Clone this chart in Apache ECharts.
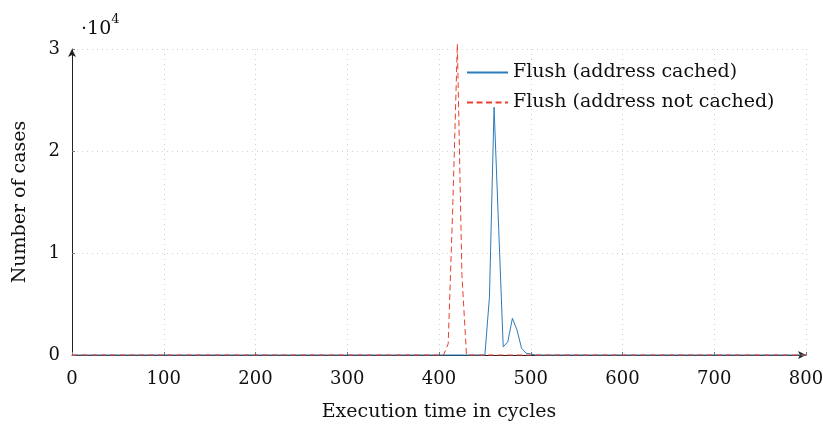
<!DOCTYPE html>
<html><head><meta charset="utf-8">
<script src="https://cdn.jsdelivr.net/npm/echarts@6/dist/echarts.min.js"></script>
<style>html,body{margin:0;padding:0;background:#fff}#c{width:823px;height:426px}</style>
</head><body><div id="c"></div>
<script>
// Data (execution time in cycles -> number of cases)
const cachedX = [0, 410, 450, 455, 460, 465, 470, 475, 480, 485, 490, 495, 500, 505, 800];
const cachedY = [0, 0, 0, 5700, 24300, 12500, 800, 1300, 3600, 2450, 660, 170, 100, 0, 0];
const notCachedX = [0, 405, 410, 415, 420, 425, 430, 800];
const notCachedY = [0, 0, 1100, 14500, 30500, 7800, 0, 0];
const xTicks = [0, 100, 200, 300, 400, 500, 600, 700, 800];
const yTicks = [0, 10000, 20000, 30000];
const seriesNames = ['Flush (address cached)', 'Flush (address not cached)'];

const FONT = 'DejaVu Serif';
const pair = (xs, ys) => xs.map((x, i) => [x, ys[i]]);

const chart = echarts.init(document.getElementById('c'), null, {renderer: 'canvas'});
chart.setOption({
  animation: false,
  textStyle: {fontFamily: FONT},
  grid: {left: 72, right: 17, top: 49, bottom: 71, containLabel: false, outerBoundsMode: 'none'},
  legend: {
    orient: 'vertical', left: 461, top: 58, padding: 5,
    itemWidth: 41, itemHeight: 14, itemGap: 11,
    itemStyle: {opacity: 0},
    textStyle: {fontFamily: FONT, fontSize: 19, color: '#111', padding: [0, 0, 0, 0]},
    data: seriesNames
  },
  xAxis: {
    type: 'value', min: xTicks[0], max: xTicks[xTicks.length - 1], interval: 100,
    name: 'Execution time in cycles', nameLocation: 'middle', nameGap: 48,
    nameTextStyle: {fontFamily: FONT, fontSize: 19, color: '#111'},
    axisLine: {show: true, symbol: ['none', 'arrow'], symbolSize: [6, 8], lineStyle: {color: '#222', width: 1}},
    axisTick: {show: true, inside: true, length: 3, lineStyle: {color: '#777'}},
    axisLabel: {fontFamily: FONT, fontSize: 18, color: '#111', margin: 15},
    splitLine: {show: true, lineStyle: {color: '#cfcfcf', type: [1, 4], width: 1}}
  },
  yAxis: {
    type: 'value', min: yTicks[0], max: yTicks[yTicks.length - 1], interval: 10000,
    name: 'Number of cases', nameLocation: 'middle', nameGap: 42, nameRotate: 90,
    nameTextStyle: {fontFamily: FONT, fontSize: 19, color: '#111'},
    axisLine: {show: true, symbol: ['none', 'arrow'], symbolSize: [6, 8], lineStyle: {color: '#222', width: 1}},
    axisTick: {show: true, inside: true, length: 3, lineStyle: {color: '#777'}},
    axisLabel: {fontFamily: FONT, fontSize: 18, color: '#111', margin: 12, formatter: v => String(v / 10000)},
    splitLine: {show: true, lineStyle: {color: '#cfcfcf', type: [1, 4], width: 1}}
  },
  graphic: [{
    type: 'text', left: 81, top: 13,
    style: {
      text: '{a|·10}{b|4}', fontFamily: FONT,
      rich: {
        a: {fontFamily: FONT, fontSize: 19, fill: '#111', verticalAlign: 'bottom', lineHeight: 26},
        b: {fontFamily: FONT, fontSize: 13, fill: '#111', verticalAlign: 'top', lineHeight: 26, padding: [0, 0, 10, 0]}
      }
    }
  }],
  series: [
    {name: seriesNames[0], type: 'line', symbol: 'none', clip: false, z: 2,
     lineStyle: {color: '#2b7bba', width: 1}, itemStyle: {color: '#2b7bba'},
     data: pair(cachedX, cachedY)},
    {name: seriesNames[1], type: 'line', symbol: 'none', clip: false, z: 3,
     lineStyle: {color: '#e8402d', width: 1, type: [6, 3.5]}, itemStyle: {color: '#e8402d'},
     data: pair(notCachedX, notCachedY)}
  ]
});
</script></body></html>
